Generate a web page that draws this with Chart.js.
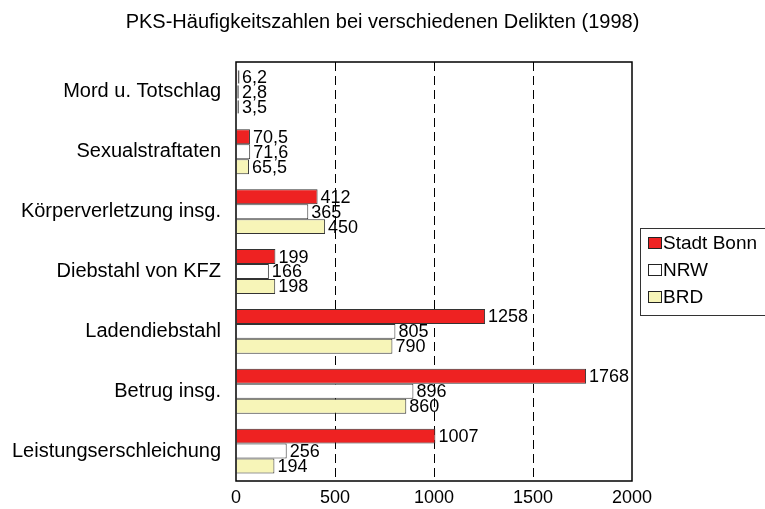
<!DOCTYPE html>
<html>
<head>
<meta charset="utf-8">
<script src="https://cdn.jsdelivr.net/npm/chart.js@4/dist/chart.umd.min.js"></script>
<style>
  html, body { margin: 0; padding: 0; background: #fff; }
  #wrap { width: 765px; height: 509px; }
</style>
</head>
<body>
<div id="wrap"><canvas id="chart" width="765" height="509"></canvas></div>
<script>
const categories = ["Mord u. Totschlag", "Sexualstraftaten", "Körperverletzung insg.", "Diebstahl von KFZ", "Ladendiebstahl", "Betrug insg.", "Leistungserschleichung"];
const bonn = [6.2, 70.5, 412, 199, 1258, 1768, 1007];
const nrw = [2.8, 71.6, 365, 166, 805, 896, 256];
const brd = [3.5, 65.5, 450, 198, 790, 860, 194];
const seriesNames = ["Stadt Bonn", "NRW", "BRD"];
const seriesColors = ["#ee2222", "#ffffff", "#f7f5b8"];
const xTicks = [0, 500, 1000, 1500, 2000];

const FONT = "Arial, 'Liberation Sans', sans-serif";
const chartTitle = "PKS-Häufigkeitszahlen bei verschiedenen Delikten (1998)";

// title, frame, value labels and boxed legend
const extras = {
  id: 'extras',
  afterDatasetsDraw(chart) {
    const ctx = chart.ctx;
    const a = chart.chartArea;
    ctx.save();
    // frame
    ctx.strokeStyle = "#000";
    ctx.lineWidth = 1.5;
    ctx.strokeRect(a.left, a.top, a.right - a.left, a.bottom - a.top);
    // thin bars at the left edge stay visible
    ctx.lineWidth = 1;
    ctx.strokeStyle = "#333";
    chart.data.datasets.forEach((ds, i) => {
      chart.getDatasetMeta(i).data.forEach(bar => {
        if (bar.x - a.left < 4) {
          ctx.beginPath();
          ctx.moveTo(bar.x + 1.5, bar.y - bar.height / 2 + 1);
          ctx.lineTo(bar.x + 1.5, bar.y + bar.height / 2 - 1);
          ctx.stroke();
        }
      });
    });
    // value labels
    ctx.font = "18px " + FONT;
    ctx.fillStyle = "#000";
    ctx.textBaseline = "middle";
    ctx.textAlign = "left";
    chart.data.datasets.forEach((ds, i) => {
      chart.getDatasetMeta(i).data.forEach((bar, j) => {
        const txt = String(ds.data[j]).replace('.', ',');
        ctx.fillText(txt, Math.max(bar.x, a.left + 3) + 3, bar.y + 1);
      });
    });
    // title
    ctx.textAlign = "center";
    ctx.font = "20px " + FONT;
    ctx.fillText(chartTitle, chart.width / 2, 22);
    // legend
    const lx = a.right + 8, ly = 228, lw = 130, lh = 87;
    ctx.font = "19px " + FONT;
    ctx.lineWidth = 1;
    ctx.strokeStyle = "#333";
    ctx.strokeRect(lx + 0.5, ly + 0.5, lw, lh);
    ctx.textAlign = "left";
    seriesNames.forEach((name, i) => {
      const y = ly + 15 + i * 27;
      ctx.fillStyle = seriesColors[i];
      ctx.fillRect(lx + 8, y - 6, 14, 12);
      ctx.strokeStyle = "#222";
      ctx.strokeRect(lx + 8.5, y - 5.5, 13, 11);
      ctx.fillStyle = "#000";
      ctx.fillText(name, lx + 23, y + 1);
    });
    ctx.restore();
  }
};

new Chart(document.getElementById('chart'), {
  type: 'bar',
  data: {
    labels: categories,
    datasets: [bonn, nrw, brd].map((d, i) => ({
      label: seriesNames[i],
      data: d,
      backgroundColor: seriesColors[i],
      borderColor: "#333",
      borderWidth: 1,
      borderSkipped: 'left',
      barPercentage: 1.0,
      categoryPercentage: 0.75
    }))
  },
  options: {
    indexAxis: 'y',
    responsive: false,
    animation: false,
    layout: { padding: { top: 62, right: 133, left: 0, bottom: 0 } },
    plugins: {
      legend: { display: false },
      title: { display: false },
      tooltip: { enabled: false }
    },
    scales: {
      x: {
        min: 0,
        max: 2000,
        afterBuildTicks(scale) { scale.ticks = xTicks.map(v => ({ value: v })); },
        afterFit(scale) { scale.height = 28; },
        border: { display: false, dash: [9, 5] },
        grid: {
          drawTicks: false,
          color: ctx => (ctx.tick && ctx.tick.value > 0 && ctx.tick.value < 2000) ? "#000" : "rgba(0,0,0,0)",
          lineWidth: 1
        },
        ticks: {
          color: "#000",
          font: { size: 18, family: FONT },
          padding: 6,
          maxRotation: 0,
          callback: v => String(v)
        }
      },
      y: {
        afterFit(scale) { scale.width = 236; },
        border: { display: false },
        grid: { display: false, drawTicks: false },
        ticks: { color: "#000", font: { size: 20, family: FONT }, padding: 15 }
      }
    }
  },
  plugins: [extras]
});
</script>
</body>
</html>
